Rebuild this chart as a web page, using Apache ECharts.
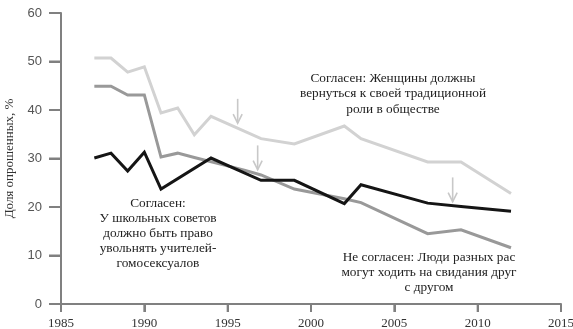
<!DOCTYPE html>
<html><head><meta charset="utf-8">
<script src="https://cdn.jsdelivr.net/npm/echarts@6/dist/echarts.min.js"></script>
<style>html,body{margin:0;padding:0;background:#fff}#c{width:573px;height:329px}</style>
</head><body><div id="c"></div>
<script>
// Women should return to traditional roles (agree)
const womenYears  = [1987, 1988, 1989, 1990, 1991, 1992, 1993, 1994, 1997, 1999, 2002, 2003, 2007, 2009, 2012];
const womenValues = [50.7, 50.7, 47.8, 48.9, 39.4, 40.4, 34.9, 38.7, 34.1, 33.0, 36.7, 34.1, 29.3, 29.3, 22.8];
// School boards should be able to fire gay teachers (agree)
const teachYears  = [1987, 1988, 1989, 1990, 1991, 1992, 1993, 1996, 1997, 1999, 2002, 2003, 2007, 2009, 2012];
const teachValues = [44.9, 44.9, 43.1, 43.1, 30.3, 31.1, 30.2, 27.6, 26.6, 23.7, 21.7, 20.9, 14.5, 15.3, 11.6];
// Interracial dating OK (disagree)
const dateYears   = [1987, 1988, 1989, 1990, 1991, 1994, 1997, 1999, 2002, 2003, 2007, 2009, 2012];
const dateValues  = [30.1, 31.1, 27.4, 31.3, 23.7, 30.1, 25.5, 25.5, 20.7, 24.6, 20.8, 20.1, 19.1];
// Arrow annotations
const arrowYears  = [1995.6, 1996.8, 2008.5];
const arrowTops   = [42.3, 32.7, 26.1];
const arrowBottoms= [37.3, 27.7, 21.1];
const xTicks = [1985, 1990, 1995, 2000, 2005, 2010, 2015];
const yTicks = [0, 10, 20, 30, 40, 50, 60];

const pairs = (xs, ys) => xs.map((x, i) => [x, ys[i]]);
const serif = '"Liberation Serif", "DejaVu Serif", serif';
const sans = '"Liberation Sans", Arial, sans-serif';
const axisColor = '#808080';

const chart = echarts.init(document.getElementById('c'), null, {renderer: 'canvas'});
const lineSeries = (data, color) => ({
  type: 'line', data, showSymbol: false, symbol: 'none',
  lineStyle: {color, width: 3, join: 'miter'}, z: 2, animation: false
});
chart.setOption({
  animation: false,
  grid: {left: 61, right: 12, top: 13, bottom: 25, containLabel: false, outerBoundsMode: 'none'},
  xAxis: {
    type: 'value', min: xTicks[0], max: xTicks[xTicks.length - 1], interval: 5,
    axisLine: {onZero: false, lineStyle: {color: axisColor, width: 2}},
    axisTick: {show: true, inside: false, length: 8, lineStyle: {color: axisColor, width: 2}},
    axisLabel: {color: '#333', fontFamily: serif, fontSize: 13, margin: 13, formatter: v => String(v)},
    splitLine: {show: false}
  },
  yAxis: {
    type: 'value', min: yTicks[0], max: yTicks[yTicks.length - 1], interval: 10,
    name: 'Доля опрошенных, %', nameLocation: 'middle', nameGap: 45, nameRotate: 90,
    nameTextStyle: {color: '#333', fontFamily: serif, fontSize: 13},
    axisLine: {show: true, lineStyle: {color: axisColor, width: 2}},
    axisTick: {show: true, inside: false, length: 12, lineStyle: {color: axisColor, width: 2}},
    axisLabel: {color: '#555', fontFamily: sans, fontSize: 13, margin: 19},
    splitLine: {show: false}
  },
  series: [
    lineSeries(pairs(womenYears, womenValues), '#d2d2d2'),
    lineSeries(pairs(teachYears, teachValues), '#999999'),
    lineSeries(pairs(dateYears, dateValues), '#151515'),
    {
      type: 'custom', z: 3, clip: false,
      data: arrowYears.map((x, i) => [x, arrowTops[i], arrowBottoms[i]]),
      renderItem: (params, api) => {
        const p1 = api.coord([api.value(0), api.value(1)]);
        const p2 = api.coord([api.value(0), api.value(2)]);
        const st = {stroke: '#c8c8c8', lineWidth: 1.6, fill: 'none'};
        return {type: 'group', children: [
          {type: 'line', shape: {x1: p1[0], y1: p1[1], x2: p2[0], y2: p2[1]}, style: st},
          {type: 'polyline', shape: {points: [[p2[0] - 4.5, p2[1] - 9], [p2[0], p2[1]], [p2[0] + 4.5, p2[1] - 9]]}, style: st}
        ]};
      }
    },
    {
      // outward ticks on the x axis (same positions as the axis ticks)
      type: 'custom', z: 4, clip: false, silent: true,
      data: xTicks.map(x => [x, yTicks[0]]),
      renderItem: (params, api) => {
        const p = api.coord([api.value(0), api.value(1)]);
        return {type: 'line', shape: {x1: p[0], y1: p[1], x2: p[0], y2: p[1] + 8}, style: {stroke: axisColor, lineWidth: 2}};
      }
    },
    {
      // outward ticks on the y axis
      type: 'custom', z: 4, clip: false, silent: true,
      data: yTicks.map(y => [xTicks[0], y]),
      renderItem: (params, api) => {
        const p = api.coord([api.value(0), api.value(1)]);
        return {type: 'line', shape: {x1: p[0] - 12, y1: p[1], x2: p[0], y2: p[1]}, style: {stroke: axisColor, lineWidth: 2}};
      }
    }
  ],
  graphic: [
    {type: 'text', x: 158, y: 196, style: {text: 'Согласен:\nУ школьных советов\nдолжно быть право\nувольнять учителей-\nгомосексуалов', font: '13.3px ' + serif, fill: '#222', textAlign: 'center', textVerticalAlign: 'top', lineHeight: 15}},
    {type: 'text', x: 393, y: 70.5, style: {text: 'Согласен: Женщины должны\nвернуться к своей традиционной\nроли в обществе', font: '13.3px ' + serif, fill: '#222', textAlign: 'center', textVerticalAlign: 'top', lineHeight: 15.5}},
    {type: 'text', x: 429, y: 250, style: {text: 'Не согласен: Люди разных рас\nмогут ходить на свидания друг\nс другом', font: '13.3px ' + serif, fill: '#222', textAlign: 'center', textVerticalAlign: 'top', lineHeight: 15}}
  ]
});
</script></body></html>
